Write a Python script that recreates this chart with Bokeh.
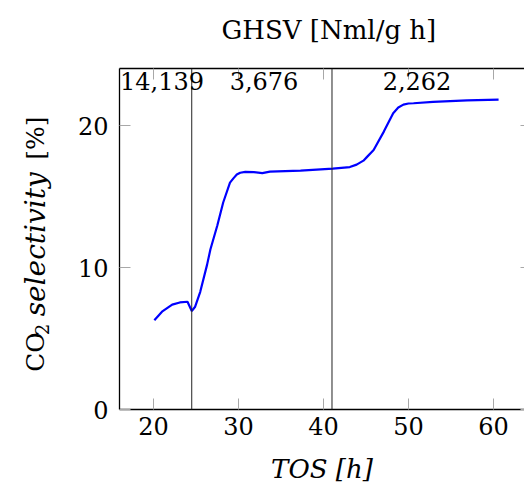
import math
from bokeh.plotting import figure
from bokeh.layouts import row
from bokeh.models import LinearAxis, FixedTicker, Span, Label, Range1d
from bokeh.core.properties import value
from bokeh.embed import file_html
from bokeh.resources import INLINE

# data
tos_h = [20.1, 21.0, 22.2, 23.1, 24.0, 24.5, 24.9, 25.5, 26.3, 26.7, 27.5, 28.2, 29.0,
         29.4, 29.8, 30.2, 30.8, 31.8, 32.8, 33.7, 37.3, 41.1, 43.1, 43.9, 44.7, 45.1,
         45.9, 47.1, 48.2, 48.8, 49.4, 50.0, 50.6, 52.9, 56.9, 60.6]
co2_selectivity = [6.3, 6.9, 7.4, 7.55, 7.6, 6.95, 7.25, 8.3, 10.2, 11.3, 12.96, 14.6, 16.0,
                   16.3, 16.57, 16.7, 16.76, 16.74, 16.67, 16.78, 16.85, 16.99, 17.1, 17.27, 17.55, 17.8,
                   18.3, 19.6, 20.9, 21.3, 21.5, 21.58, 21.6, 21.7, 21.8, 21.85]
switch_tos = [24.5, 41.0]
ghsv_labels = ["14,139", "3,676", "2,262"]
ghsv_label_x = [21.0, 33.0, 51.0]
x_ticks = [20, 30, 40, 50, 60]
y_ticks = [0, 10, 20]

SERIF = "DejaVu Serif"
LW = 56                      # width of the y-label strip
X0, X1 = 16.0, 63.65
Y0, Y1 = 0.0, 24.05
FL, FR, FT, FB = 119, 524, 68, 412  # frame in page px

def sy2d(sy):
    return Y0 + (FB - sy) * (Y1 - Y0) / (FB - FT)

# ---- y-axis label strip (mixed upright / italic text) ----
# its frame is aligned with the main frame (page y 68..412), so use page y directly
lab = figure(width=LW, height=486, output_backend="svg", toolbar_location=None,
             x_range=Range1d(0, LW), y_range=Range1d(FB, FT),
             min_border=0, x_axis_location=None, y_axis_location=None)
lab.outline_line_color = None
lab.grid.visible = False
lab.background_fill_color = "white"
lab.border_fill_color = "white"

ylabel_parts = ["CO", "2", "selectivity", "[%]"]
part_start = [374, 337, 318, 160]
part_base = [35, 41, 35, 35]
part_size = ["25px", "18px", "28px", "25px"]
part_style = ["normal", "normal", "italic", "normal"]
for txt, st, bx, fs, sty in zip(ylabel_parts, part_start, part_base, part_size, part_style):
    lab.text(x=[bx], y=[st], text=[txt], angle=math.pi / 2,
             text_align="left", text_baseline="alphabetic",
             text_font=value(SERIF), text_font_size=fs, text_font_style=sty,
             text_color="black")

# ---- main chart ----
p = figure(width=524 - LW, height=486, output_backend="svg", toolbar_location=None,
           x_range=Range1d(X0, X1), y_range=Range1d(Y0, Y1),
           min_border_left=FL - LW, min_border_right=0, min_border_top=FT,
           min_border_bottom=486 - FB, x_axis_location=None, y_axis_location=None)
p.outline_line_color = None
p.grid.visible = False
p.background_fill_color = "white"
p.border_fill_color = "white"

tick_col = "#a8a8a8"

def style_axis(ax, labels=True):
    ax.axis_line_color = "black"
    ax.axis_line_width = 1.3
    ax.major_tick_line_color = tick_col
    ax.major_tick_line_width = 1
    ax.major_tick_in = 11
    ax.major_tick_out = 0
    ax.minor_tick_line_color = None
    ax.major_label_text_font = SERIF
    ax.major_label_text_font_size = "24px"
    ax.major_label_text_color = "black"
    if not labels:
        ax.major_label_text_font_size = "1px"
        ax.major_label_text_color = None
        ax.major_label_standoff = 0

xb = LinearAxis(ticker=FixedTicker(ticks=x_ticks))
style_axis(xb)
xb.major_label_standoff = 7
xb.axis_label = "TOS [h]"
xb.axis_label_text_font = SERIF
xb.axis_label_text_font_style = "italic"
xb.axis_label_text_font_size = "26px"
xb.axis_label_text_color = "black"
xb.axis_label_standoff = 16
p.add_layout(xb, "below")

yl = LinearAxis(ticker=FixedTicker(ticks=y_ticks))
style_axis(yl)
yl.major_label_standoff = 11
p.add_layout(yl, "left")

xt = LinearAxis(ticker=FixedTicker(ticks=x_ticks))
style_axis(xt, labels=False)
p.add_layout(xt, "above")

# invisible spacer between the top border and the title
gap = LinearAxis(ticker=FixedTicker(ticks=x_ticks))
style_axis(gap, labels=False)
gap.axis_line_color = None
gap.major_tick_line_color = None
gap.major_tick_in = 0
gap.major_tick_out = 24
p.add_layout(gap, "above")

yr = LinearAxis(ticker=FixedTicker(ticks=y_ticks))
style_axis(yr, labels=False)
yr.axis_line_color = None
yr.major_tick_in = 4
p.add_layout(yr, "right")

p.title.text = "GHSV [Nml/g h]"
p.title.align = "left"
p.title.offset = 221 - FL
p.title.text_font = SERIF
p.title.text_font_size = "26px"
p.title.text_font_style = "normal"
p.title.text_color = "black"
p.title.standoff = 0

for xv in switch_tos:
    p.add_layout(Span(location=xv, dimension="height", line_color="#222222", line_width=1))

p.line(tos_h, co2_selectivity, line_color="#0000ff", line_width=2.2)

for txt, xv in zip(ghsv_labels, ghsv_label_x):
    p.add_layout(Label(x=xv, y=sy2d(81), text=txt, text_align="center",
                       text_baseline="alphabetic", text_font=SERIF,
                       text_font_size="24px", text_color="black"))

layout = row(lab, p, spacing=0)
open("out.html", "w").write(file_html(layout, INLINE))
